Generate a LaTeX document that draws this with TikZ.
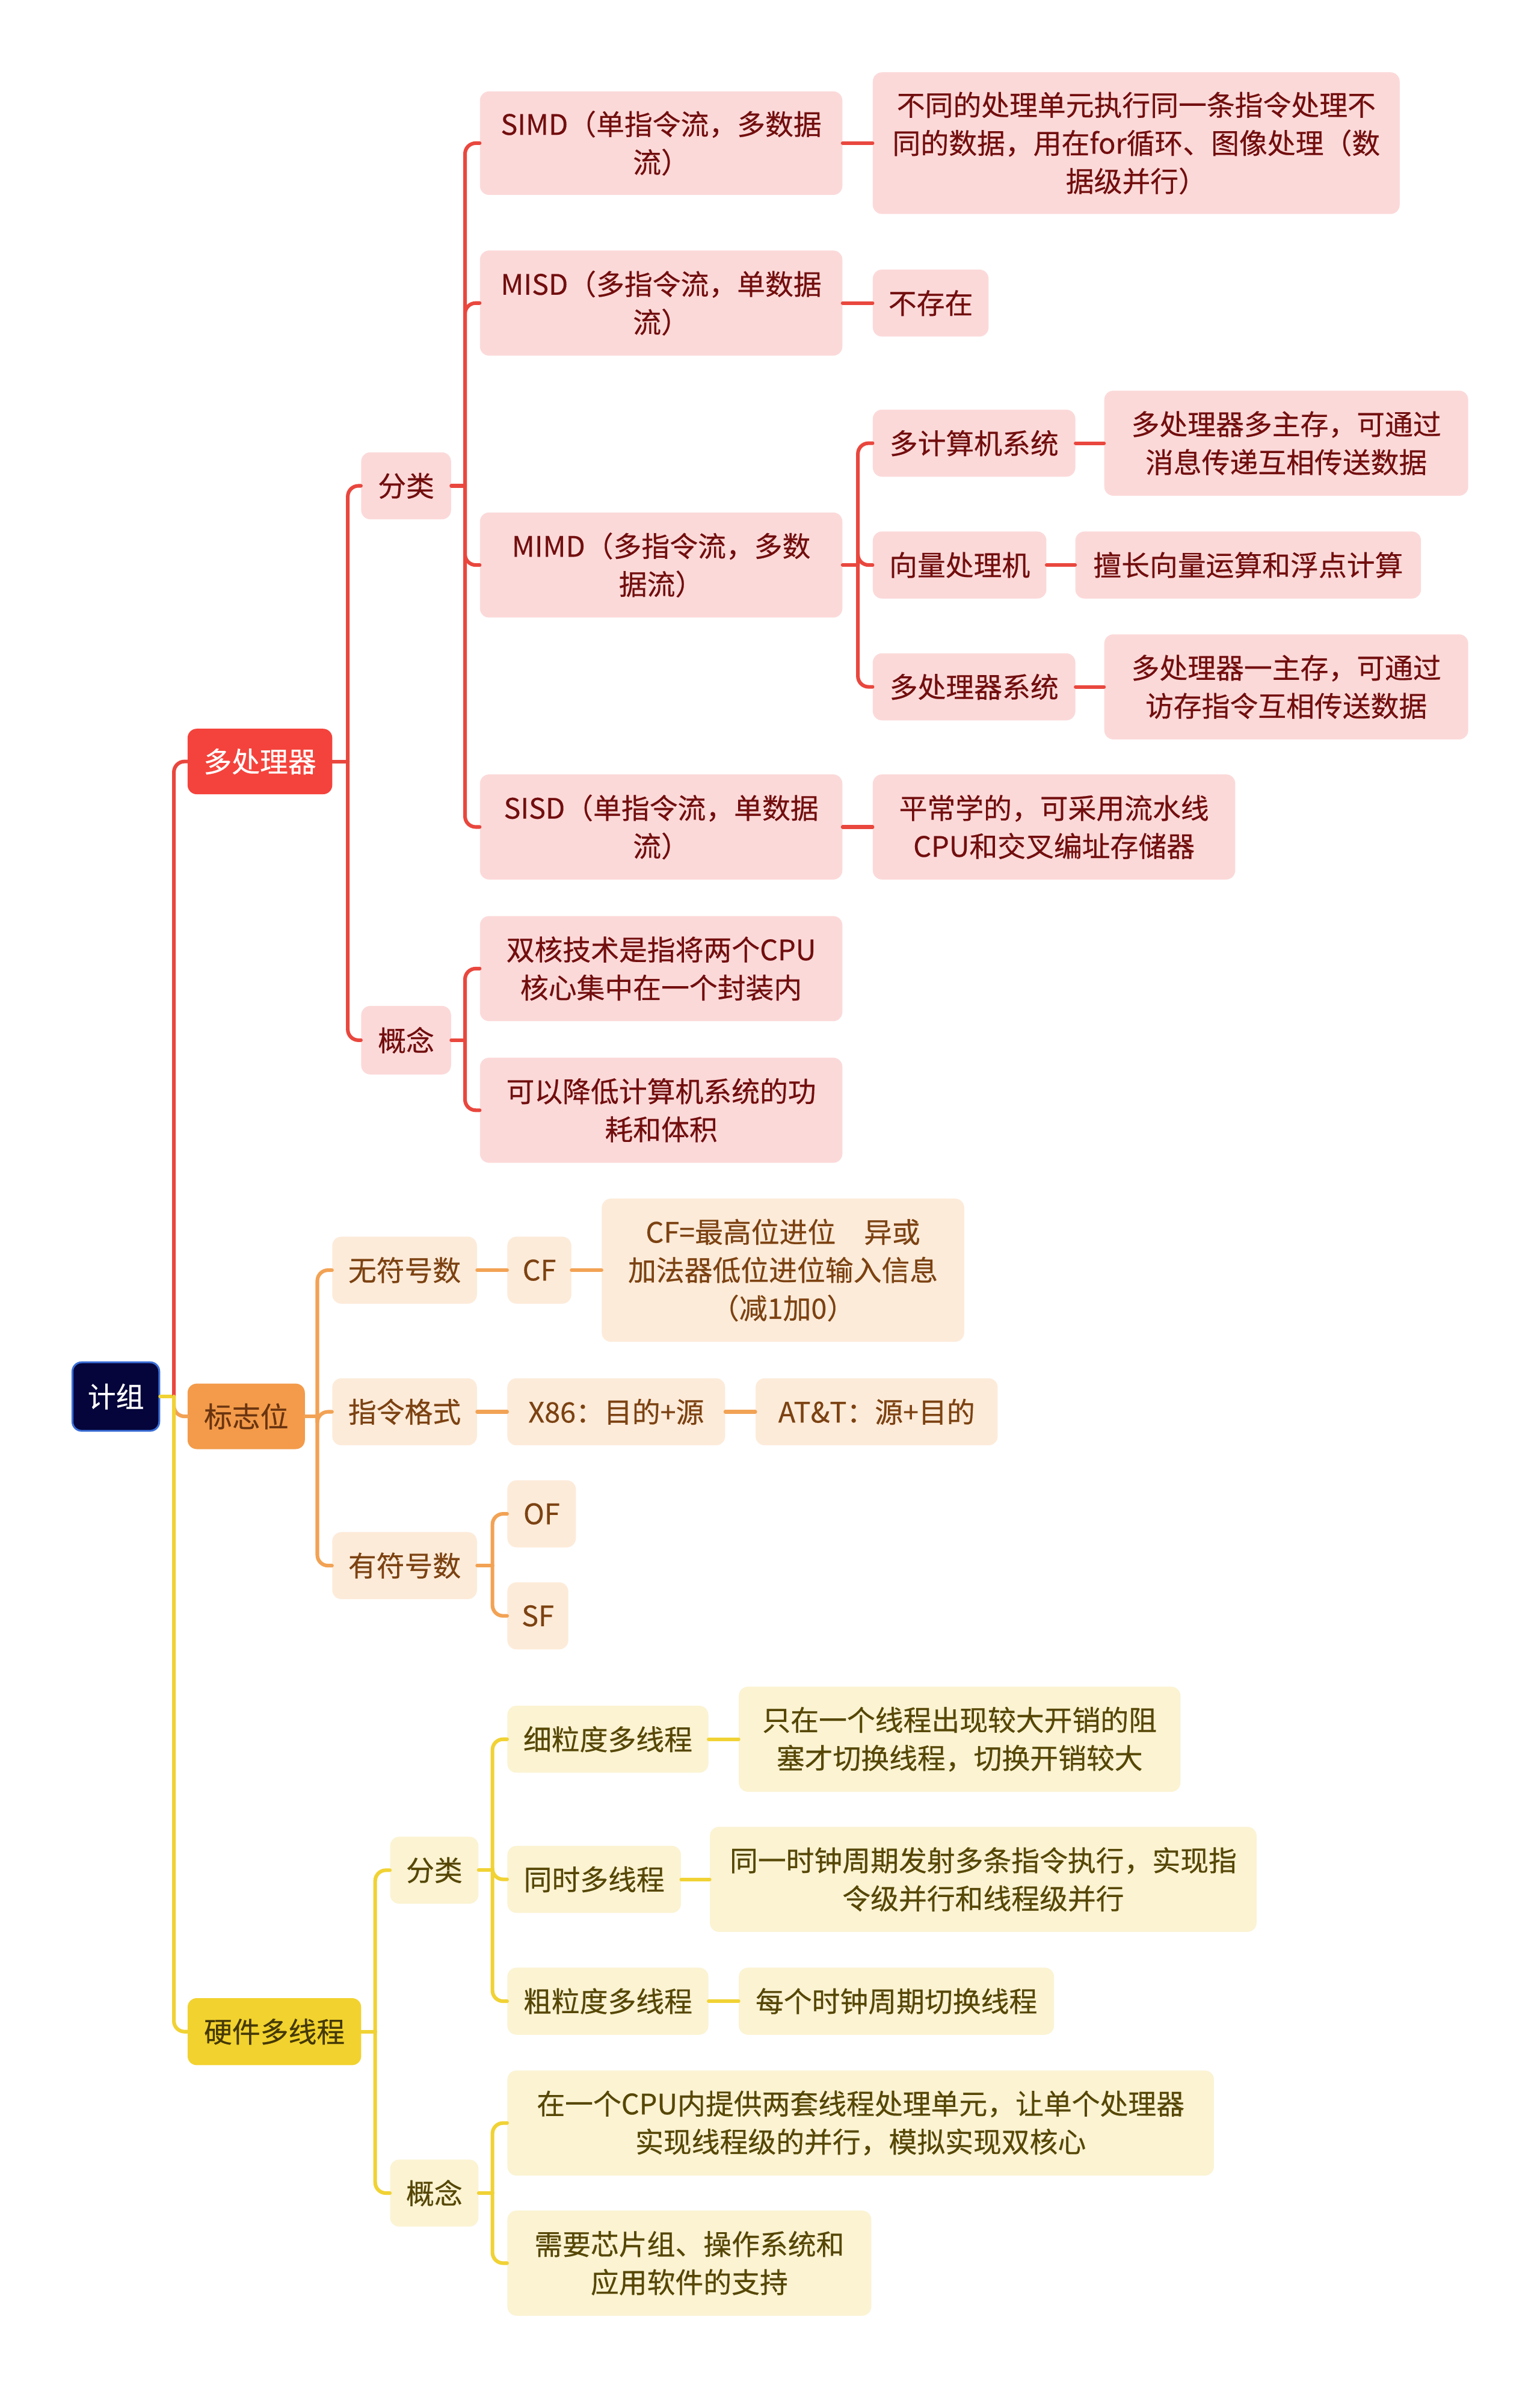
\documentclass[tikz,border=0pt]{standalone}
\usepackage{fontspec}
\setmainfont{Noto Sans CJK SC}[FakeBold=0.4]

\definecolor{redmain}{HTML}{F4433C}
\definecolor{redlight}{HTML}{FCD9D9}
\definecolor{redtext}{HTML}{720E0E}
\definecolor{redwire}{HTML}{E9473E}
\definecolor{orgmain}{HTML}{F39B4A}
\definecolor{orglight}{HTML}{FDEBD9}
\definecolor{orgtext}{HTML}{7C4212}
\definecolor{orgdark}{HTML}{6A3410}
\definecolor{orgwire}{HTML}{F2A254}
\definecolor{ylwmain}{HTML}{F2D22E}
\definecolor{ylwlight}{HTML}{FBF3D2}
\definecolor{ylwtext}{HTML}{564706}
\definecolor{ylwwire}{HTML}{F0D234}
\definecolor{rootfill}{HTML}{05053B}
\definecolor{rootedge}{HTML}{3B6FD8}

\tikzset{
  box/.style={rounded corners=6pt, align=center, inner sep=1pt, anchor=west,
    font=\fontsize{18.5}{25}\selectfont},
  wh/.style 2 args={minimum width=#1pt, minimum height=#2pt},
  rsub/.style={box, fill=redlight, text=redtext},
  osub/.style={box, fill=orglight, text=orgtext},
  ysub/.style={box, fill=ylwlight, text=ylwtext},
  wire/.style={line width=2.4pt, rounded corners=7pt},
  rwire/.style={wire, draw=redwire},
  owire/.style={wire, draw=orgwire},
  ywire/.style={wire, draw=ylwwire},
}

\begin{document}
\begin{tikzpicture}[x=1pt, y=-1pt, line cap=round, line join=round]
  \useasboundingbox[fill=white] (0,0) rectangle (1011,1568);

  % Root and main branches
  \node[box, wh={57}{45}, fill=rootfill, draw=rootedge, line width=1.2pt, text=white] (root) at (47,917) {计组};
  \node[box, wh={95}{43}, fill=redmain, text=white] (mp) at (123,500) {多处理器};
  \node[box, wh={77}{43}, fill=orgmain, text=orgdark] (flag) at (123,930) {标志位};
  \node[box, wh={114}{44}, fill=ylwmain, text=ylwtext!80!black] (hwmt) at (123,1334) {硬件多线程};

  % Multiprocessor
  \node[rsub, wh={59}{44}] (mpcls) at (237,319) {分类};
  \node[rsub, wh={59}{45}] (mpcon) at (237,683) {概念};

  \node[rsub, wh={238}{68}] (simd) at (315,94) {SIMD（单指令流，多数据\\流）};
  \node[rsub, wh={238}{69}] (misd) at (315,199) {MISD（多指令流，单数据\\流）};
  \node[rsub, wh={238}{69}] (mimd) at (315,371) {MIMD（多指令流，多数\\据流）};
  \node[rsub, wh={238}{69}] (sisd) at (315,543) {SISD（单指令流，单数据\\流）};

  \node[rsub, wh={346}{93}] (simdd) at (573,94) {不同的处理单元执行同一条指令处理不\\同的数据，用在for循环、图像处理（数\\据级并行）};
  \node[rsub, wh={76}{44}] (misdd) at (573,199) {不存在};
  \node[rsub, wh={133}{44}] (mcs) at (573,291) {多计算机系统};
  \node[rsub, wh={114}{44}] (vec) at (573,371) {向量处理机};
  \node[rsub, wh={133}{44}] (mps) at (573,451) {多处理器系统};
  \node[rsub, wh={239}{69}] (mcsd) at (725,291) {多处理器多主存，可通过\\消息传递互相传送数据};
  \node[rsub, wh={227}{44}] (vecd) at (706,371) {擅长向量运算和浮点计算};
  \node[rsub, wh={239}{69}] (mpsd) at (725,451) {多处理器一主存，可通过\\访存指令互相传送数据};
  \node[rsub, wh={238}{69}] (sisdd) at (573,543) {平常学的，可采用流水线\\CPU和交叉编址存储器};

  \node[rsub, wh={238}{69}] (dual) at (315,636) {双核技术是指将两个CPU\\核心集中在一个封装内};
  \node[rsub, wh={238}{69}] (power) at (315,729) {可以降低计算机系统的功\\耗和体积};

  % Flags
  \node[osub, wh={95}{44}] (uns) at (218,834) {无符号数};
  \node[osub, wh={95}{44}] (fmt) at (218,927) {指令格式};
  \node[osub, wh={95}{44}] (sgn) at (218,1028) {有符号数};
  \node[osub, wh={42}{44}] (cf) at (333,834) {CF};
  \node[osub, wh={238}{94}] (cfd) at (395,834) {CF=最高位进位　异或\\加法器低位进位输入信息\\（减1加0）};
  \node[osub, wh={143}{44}] (x86) at (333,927) {X86：目的+源};
  \node[osub, wh={159}{44}] (att) at (496,927) {AT\&T：源+目的};
  \node[osub, wh={45}{44}] (of) at (333,994) {OF};
  \node[osub, wh={40}{44}] (sf) at (333,1061) {SF};

  % Hardware multithreading
  \node[ysub, wh={58}{44}] (htcls) at (256,1228) {分类};
  \node[ysub, wh={58}{44}] (htcon) at (256,1440) {概念};
  \node[ysub, wh={132}{44}] (fine) at (333,1142) {细粒度多线程};
  \node[ysub, wh={114}{44}] (smt) at (333,1234) {同时多线程};
  \node[ysub, wh={132}{44}] (coarse) at (333,1314) {粗粒度多线程};
  \node[ysub, wh={290}{69}] (fined) at (485,1142) {只在一个线程出现较大开销的阻\\塞才切换线程，切换开销较大};
  \node[ysub, wh={359}{69}] (smtd) at (466,1234) {同一时钟周期发射多条指令执行，实现指\\令级并行和线程级并行};
  \node[ysub, wh={207}{44}] (coarsed) at (485,1314) {每个时钟周期切换线程};
  \node[ysub, wh={464}{69}] (htc1) at (333,1394) {在一个CPU内提供两套线程处理单元，让单个处理器\\实现线程级的并行，模拟实现双核心};
  \node[ysub, wh={239}{69}] (htc2) at (333,1486) {需要芯片组、操作系统和\\应用软件的支持};

  % Connectors: root
  \draw[ywire] (root.east) -- ++(9,0);
  \draw[rwire] (root.east) ++(9,0) |- (mp.west);
  \draw[owire] (root.east) ++(9,0) |- (flag.west);
  \draw[ywire] (root.east) ++(9,0) |- (hwmt.west);

  % Connectors: multiprocessor
  \draw[rwire] (mp.east) -- ++(10,0);
  \foreach \c in {mpcls,mpcon}
    \draw[rwire] (mp.east) ++(10,0) |- (\c.west);
  \draw[rwire] (mpcls.east) -- ++(9,0);
  \foreach \c in {simd,misd,mimd,sisd}
    \draw[rwire] (mpcls.east) ++(9,0) |- (\c.west);
  \draw[rwire] (mpcon.east) -- ++(9,0);
  \foreach \c in {dual,power}
    \draw[rwire] (mpcon.east) ++(9,0) |- (\c.west);
  \draw[rwire] (simd.east) -- (simdd.west);
  \draw[rwire] (misd.east) -- (misdd.west);
  \draw[rwire] (sisd.east) -- (sisdd.west);
  \draw[rwire] (mimd.east) -- ++(10,0);
  \foreach \c in {mcs,vec,mps}
    \draw[rwire] (mimd.east) ++(10,0) |- (\c.west);
  \draw[rwire] (mcs.east) -- (mcsd.west);
  \draw[rwire] (vec.east) -- (vecd.west);
  \draw[rwire] (mps.east) -- (mpsd.west);

  % Connectors: flags
  \draw[owire] (flag.east) -- ++(8,0);
  \foreach \c in {uns,fmt,sgn}
    \draw[owire] (flag.east) ++(8,0) |- (\c.west);
  \draw[owire] (uns.east) -- (cf.west);
  \draw[owire] (cf.east) -- (cfd.west);
  \draw[owire] (fmt.east) -- (x86.west);
  \draw[owire] (x86.east) -- (att.west);
  \draw[owire] (sgn.east) -- ++(10,0);
  \foreach \c in {of,sf}
    \draw[owire] (sgn.east) ++(10,0) |- (\c.west);

  % Connectors: hardware multithreading
  \draw[ywire] (hwmt.east) -- ++(9,0);
  \foreach \c in {htcls,htcon}
    \draw[ywire] (hwmt.east) ++(9,0) |- (\c.west);
  \draw[ywire] (htcls.east) -- ++(9,0);
  \foreach \c in {fine,smt,coarse}
    \draw[ywire] (htcls.east) ++(9,0) |- (\c.west);
  \draw[ywire] (htcon.east) -- ++(9,0);
  \foreach \c in {htc1,htc2}
    \draw[ywire] (htcon.east) ++(9,0) |- (\c.west);
  \draw[ywire] (fine.east) -- (fined.west);
  \draw[ywire] (smt.east) -- (smtd.west);
  \draw[ywire] (coarse.east) -- (coarsed.west);
\end{tikzpicture}
\end{document}
